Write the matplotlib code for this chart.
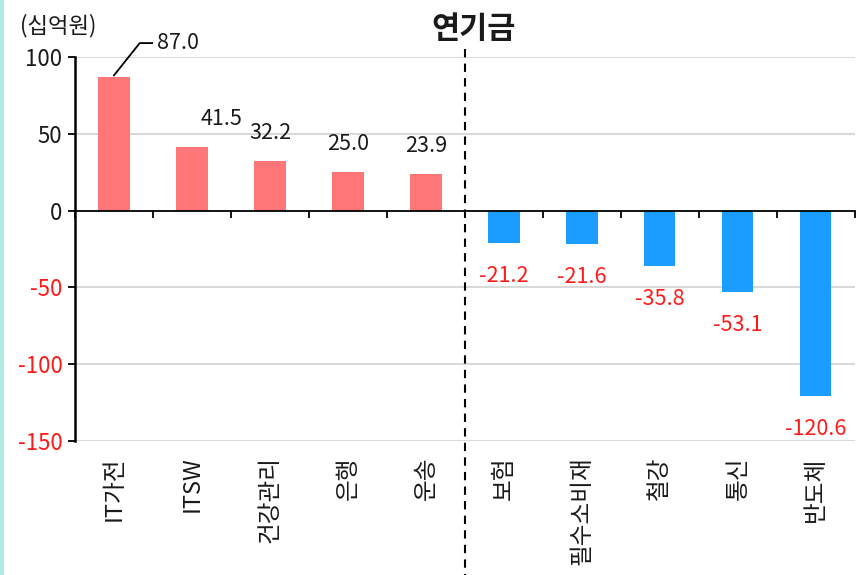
import matplotlib
matplotlib.use("Agg")
import matplotlib.pyplot as plt
import matplotlib.transforms as mtransforms

plt.rcParams['font.family'] = ['Noto Sans CJK KR', 'DejaVu Sans']

# 데이터
업종 = ["IT가전", "ITSW", "건강관리", "은행", "운송", "보험", "필수소비재", "철강", "통신", "반도체"]
순매수 = [87.0, 41.5, 32.2, 25.0, 23.9, -21.2, -21.6, -35.8, -53.1, -120.6]
y_눈금 = [100, 50, 0, -50, -100, -150]

색_양 = "#ff7679"
색_음 = "#1b9cff"
빨강 = "#ff1a1a"
검정 = "#1a1a1a"

fig = plt.figure(figsize=(8.57, 5.75), dpi=100)
ax = fig.add_axes([0.0875, 0.233, 0.910, 0.668])

x = list(range(len(업종)))
색 = [색_양 if v > 0 else 색_음 for v in 순매수]
ax.bar(x, 순매수, width=0.4, color=색, zorder=3)

ax.set_xlim(-0.5, len(업종) - 0.5)
ax.set_ylim(-150, 100)

# 격자
for t in y_눈금:
    if t != 0:
        ax.axhline(t, color="#d9d9d9", lw=1.5, zorder=1)

ax.spines["top"].set_visible(False)
ax.spines["right"].set_visible(False)
ax.spines["bottom"].set_position(("data", 0))
ax.spines["bottom"].set_linewidth(1.3)
ax.spines["left"].set_linewidth(1.8)
ax.spines["bottom"].set_zorder(4)

ax.set_yticks(y_눈금)
ax.set_yticklabels([str(t) for t in y_눈금])
ax.tick_params(axis="y", direction="out", length=5, width=1.3, labelsize=16, pad=4)
for lab, t in zip(ax.get_yticklabels(), y_눈금):
    lab.set_color(빨강 if t < 0 else 검정)

ax.set_xticks([i - 0.5 for i in range(len(업종) + 1)])
ax.set_xticklabels([])
ax.tick_params(axis="x", direction="out", length=5, width=1.3)

# 업종 이름
tr = mtransforms.blended_transform_factory(ax.transData, ax.transAxes)
for i, name in enumerate(업종):
    ax.text(i, -0.04, name, transform=tr, rotation=90, ha="center", va="top",
            fontsize=17, color=검정)

# 값 표시
for i, v in enumerate(순매수):
    if i == 0:
        ax.plot([0, 0.33, 0.49], [88, 109, 109], color="black", lw=1.3, zorder=4,
                clip_on=False)
        ax.text(0.55, 109, f"{v:.1f}", ha="left", va="center", fontsize=15.5, color=검정)
    elif v > 0:
        xx = i + 0.38 if i == 1 else i
        ax.text(xx, v + 18, f"{v:.1f}", ha="center", va="center", fontsize=15.5, color=검정)
    else:
        ax.text(i, v - 21.5, f"{v:.1f}", ha="center", va="center", fontsize=15.5, color=빨강)

# 구분 점선
ax.plot([4.5, 4.5], [1.02, -0.36], transform=tr, color="black", lw=1.5,
        ls=(0, (4, 3)), clip_on=False, zorder=5)

fig.text(474 / 857, 1 - 29 / 575, "연기금", ha="center", va="center",
         fontsize=22, fontweight="bold", color=검정)
fig.text(58 / 857, 1 - 26 / 575, "(십억원)", ha="center", va="center",
         fontsize=16, color=검정)

# 왼쪽 테두리
fig.add_artist(plt.Line2D([0.002, 0.002], [0, 1], color="#b3ebe3", lw=3,
                          transform=fig.transFigure))

fig.savefig("out.png", dpi=100)
